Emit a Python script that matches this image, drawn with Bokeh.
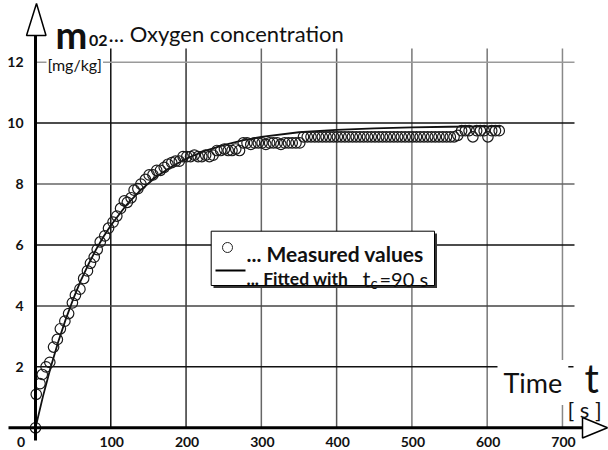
from bokeh.plotting import figure
from bokeh.models import Range1d, Label, ColumnDataSource
from bokeh.core.properties import value
from bokeh.embed import file_html
from bokeh.resources import INLINE

# ---------------- data ----------------
x_ticks = [0, 100, 200, 300, 400, 500, 600, 700]
x_tick_labels = ["0", "100", "200", "300", "400", "500", "600", "700"]
y_ticks = [2, 4, 6, 8, 10, 12]
y_tick_labels = ["2", "4", "6", "8", "10", "12"]

meas_t = [0, 1, 6, 9, 14, 19, 24, 29, 33, 39, 44, 49, 53, 59, 64, 69, 73, 78, 82, 86,
          92, 97, 103, 108, 113, 118, 122, 127, 131, 136, 140, 146, 151, 156, 161, 166,
          171, 176, 181, 186, 191, 196, 201,
          206, 211, 216, 221, 226, 231, 236,
          241, 246, 251, 256, 261, 266, 271,
          276, 281, 286, 291, 296, 301, 306, 311, 316, 321, 326, 331, 336, 341, 346, 351,
          356, 361, 366, 371, 376, 381, 386, 391, 396, 401, 406, 411, 416, 421, 426, 431,
          436, 441, 446, 451, 456, 461, 466, 471, 476, 481, 486, 491, 496, 501, 506, 511,
          516, 521, 526, 531, 536, 541, 546, 551, 556, 561,
          566, 571, 576, 581, 586, 591, 596, 601, 606, 611, 616]
meas_y = [0.0, 1.1, 1.45, 1.75, 2.0, 2.15, 2.65, 2.9, 3.25, 3.5, 3.75, 4.1, 4.35, 4.55, 4.9, 5.15, 5.4, 5.6, 5.85, 6.1,
          6.3, 6.55, 6.75, 6.95, 7.2, 7.45, 7.4, 7.55, 7.8, 7.85, 8.0, 8.15, 8.3, 8.3, 8.45, 8.45,
          8.55, 8.65, 8.7, 8.75, 8.75, 8.9, 8.9,
          8.9, 8.95, 8.9, 8.9, 8.95, 8.9, 8.95,
          9.1, 9.1, 9.15, 9.1, 9.1, 9.15, 9.1,
          9.35, 9.35, 9.3, 9.35, 9.35, 9.35, 9.3, 9.35, 9.35, 9.35, 9.3, 9.35, 9.35, 9.35, 9.35, 9.35,
          9.55, 9.55, 9.55, 9.55, 9.55, 9.55, 9.55, 9.55, 9.55, 9.55, 9.55, 9.55, 9.55, 9.55, 9.55, 9.55,
          9.55, 9.55, 9.55, 9.55, 9.55, 9.55, 9.55, 9.55, 9.55, 9.55, 9.55, 9.55, 9.55, 9.55, 9.55, 9.55,
          9.55, 9.55, 9.55, 9.55, 9.55, 9.55, 9.55, 9.55, 9.55, 9.6,
          9.75, 9.75, 9.75, 9.55, 9.75, 9.75, 9.75, 9.55, 9.75, 9.75, 9.75]

fit_t = [0, 10, 20, 30, 40, 50, 60, 70, 80, 90, 100, 120, 140, 160, 180, 200, 225, 250,
         275, 300, 350, 400, 450, 500, 550, 600, 618]
fit_y = [0.0, 1.04, 1.97, 2.81, 3.55, 4.22, 4.82, 5.35, 5.83, 6.26, 6.64, 7.29, 7.81, 8.23,
         8.56, 8.83, 9.09, 9.28, 9.43, 9.55, 9.70, 9.78, 9.83, 9.86, 9.88, 9.89, 9.89]

# ---------------- layout helpers (screen pixel -> data) ----------------
X0, SX = 35.0, 0.7528      # screen x of t=0, px per second
Y0, SY = 427.3, 30.47      # screen y of m=0, px per mg/kg
def dx(px):
    return (px - X0) / SX
def dy(py):
    return (Y0 - py) / SY

W, H = 608, 450
p = figure(width=W, height=H, output_backend="svg", toolbar_location=None,
           x_range=Range1d(dx(0), dx(W)), y_range=Range1d(dy(H), dy(0)),
           x_axis_type=None, y_axis_type=None, min_border=0)
p.grid.visible = False
p.outline_line_color = None
p.background_fill_color = "white"
p.border_fill_color = "white"

FONT = "Lato"

# ---------------- grid ----------------
vgrid_colors = ["#111111", "#333333", "#666666", "#555555", "#777777", "#777777", "#888888"]
hgrid_colors = ["#111111", "#444444", "#111111", "#666666", "#111111", "#9a9a9a"]
vx = x_ticks[1:]
p.segment(x0=vx, y0=[0] * len(vx), x1=vx, y1=[dy(48)] * len(vx),
          line_color=vgrid_colors, line_width=1.5)
p.segment(x0=[0] * len(y_ticks), y0=y_ticks, x1=[dx(574)] * len(y_ticks), y1=y_ticks,
          line_color=hgrid_colors, line_width=1.5)

# ---------------- data ----------------
p.line(fit_t, fit_y, line_color="#111111", line_width=1.8)
p.scatter(meas_t, meas_y, marker="circle", size=10.5, fill_color=None,
          line_color="#1a1a1a", line_width=1.2)

# ---------------- axes ----------------
p.line([0, 0], [dy(440), dy(35)], line_color="black", line_width=3)
p.line([dx(8), dx(582)], [0, 0], line_color="black", line_width=3)
p.patch([dx(26), dx(36), dx(45.5)], [dy(35), dy(3), dy(35)],
        fill_color="white", line_color="black", line_width=1.5)
p.patch([dx(582), dx(607), dx(582)], [dy(417), 0, dy(437.5)],
        fill_color="white", line_color="black", line_width=1.5)

xsrc = ColumnDataSource(dict(x=x_ticks, y=[dy(441.5)] * len(x_ticks), t=x_tick_labels,
                             off=[-14.5] + [1] * (len(x_ticks) - 1)))
p.text(x="x", y="y", text="t", x_offset="off", source=xsrc, text_align="center",
       text_baseline="middle", text_font=value(FONT), text_font_size="14px",
       text_font_style="bold", text_color="#111111")
p.text(x=[dx(23)] * len(y_ticks), y=y_ticks, text=y_tick_labels, text_align="right",
       text_baseline="middle", text_font=value(FONT), text_font_size="14px",
       text_font_style="bold", text_color="#111111")

# ---------------- legend box ----------------
p.quad(left=[dx(213)], right=[dx(436.5)], top=[dy(233)], bottom=[dy(287.5)],
       fill_color="#333333", line_color=None)
p.quad(left=[dx(210.7)], right=[dx(434)], top=[dy(230.7)], bottom=[dy(285)],
       fill_color="white", line_color="black", line_width=1)
p.scatter([dx(227)], [dy(247)], marker="circle", size=10, fill_color=None,
          line_color="#222222", line_width=1)
p.line([dx(215), dx(245)], [dy(270), dy(270)], line_color="black", line_width=2)

def lab(px, py, text, size, bold=False, align="left", baseline="alphabetic", bg=None, pad=0):
    l = Label(x=dx(px), y=dy(py), text=text, text_font=FONT, text_font_size=size,
              text_font_style="bold" if bold else "normal", text_align=align,
              text_baseline=baseline, text_color="#111111")
    if bg is not None:
        l.background_fill_color = bg
        l.padding = pad
    p.add_layout(l)

lab(246, 253, "... Measured values", "21px", bold=True)
lab(246, 278, "... Fitted with", "17.5px", bold=True)
lab(362, 278, "t", "22px")
lab(370, 282, "c", "15px")
lab(379, 278, "=90 s", "20px")

# ---------------- titles ----------------
lab(55, 33, "m", "38px", bold=True)
lab(88.5, 40, "02", "16px", bold=True)
lab(108, 33, "... Oxygen concentration", "22px")
lab(46, 63.5, "[mg/kg]", "16px", baseline="middle", bg="white", pad=1)
lab(497, 382, "Time", "27px", bg="white", pad=6)
lab(573, 377, "t", "40px", bg="white", pad=11)
lab(567, 409, "[ s ]", "22px")

open("out.html", "w").write(file_html(p, INLINE))
